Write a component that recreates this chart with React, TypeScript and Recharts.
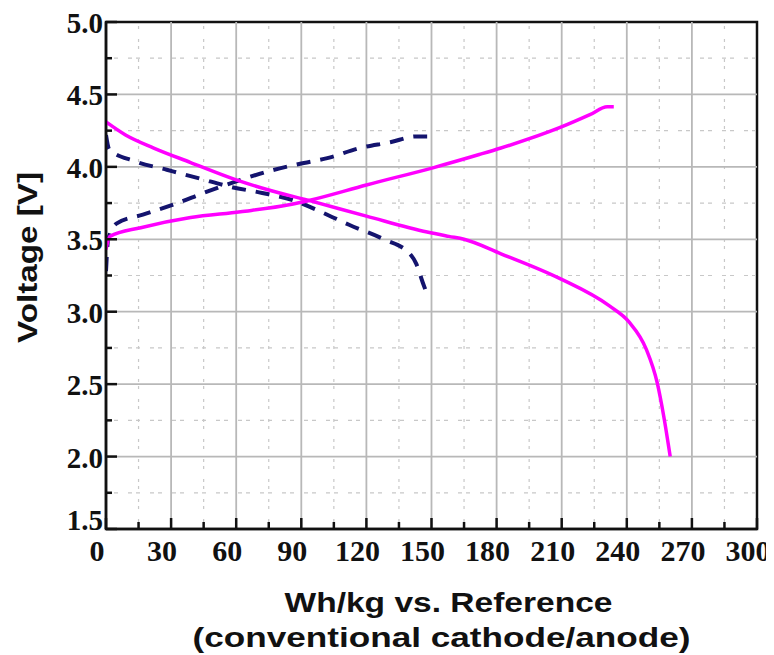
import React from "react";
import { LineChart, Line, XAxis, YAxis, ReferenceLine, ReferenceArea } from "recharts";

// Magenta (new chemistry) discharge curve
const pinkDisX = [0, 9, 22, 39, 60, 75, 93, 120, 148, 158, 165, 182, 209, 232, 241, 249, 254, 257, 260];
const pinkDisV = [4.31, 4.22, 4.13, 4.03, 3.91, 3.84, 3.77, 3.66, 3.55, 3.52, 3.5, 3.4, 3.23, 3.04, 2.93, 2.74, 2.51, 2.28, 2.0];
// Magenta charge curve
const pinkChgX = [0, 1.8, 16, 39, 62, 85, 94, 120, 151, 172, 182, 209, 223, 231, 234];
const pinkChgV = [3.43, 3.52, 3.58, 3.65, 3.69, 3.74, 3.77, 3.875, 3.995, 4.085, 4.13, 4.27, 4.36, 4.415, 4.415];
// Blue dashed (reference) discharge
const blueDisX = [0, 1.5, 13, 28, 43, 58, 72, 86, 99, 112, 128, 140, 143, 146, 148.5];
const blueDisV = [4.22, 4.12, 4.04, 3.98, 3.92, 3.86, 3.82, 3.77, 3.69, 3.6, 3.5, 3.4, 3.33, 3.2, 3.1];
// Blue dashed charge
const blueChgX = [0, 1, 5, 17, 33, 45, 60, 75, 89, 102, 117, 131, 143, 148];
const blueChgV = [3.28, 3.5, 3.61, 3.67, 3.75, 3.82, 3.9, 3.97, 4.02, 4.06, 4.13, 4.17, 4.21, 4.21];

const xTicks = [0, 15, 30, 45, 60, 75, 90, 105, 120, 135, 150, 165, 180, 195, 210, 225, 240, 255, 270, 285, 300];
const xMajor = [0, 30, 60, 90, 120, 150, 180, 210, 240, 270, 300];
const yTicks = [1.5, 1.75, 2.0, 2.25, 2.5, 2.75, 3.0, 3.25, 3.5, 3.75, 4.0, 4.25, 4.5, 4.75, 5.0];
const yMajor = [1.5, 2.0, 2.5, 3.0, 3.5, 4.0, 4.5, 5.0];

const xTitle1 = "Wh/kg vs. Reference";
const xTitle2 = "(conventional cathode/anode)";
const yTitle = "Voltage [V]";

const toPts = (xs: number[], vs: number[]) => xs.map((x, i) => ({ x, v: vs[i] }));
const pinkDis = toPts(pinkDisX, pinkDisV);
const pinkChg = toPts(pinkChgX, pinkChgV);
const blueDis = toPts(blueDisX, blueDisV);
const blueChg = toPts(blueChgX, blueChgV);

const isMajorX = (v: number) => xMajor.includes(v);
const isMajorY = (v: number) => yMajor.some((m) => Math.abs(m - v) < 1e-6);

const tickFont = "'Liberation Serif', 'Times New Roman', serif";
const titleFont = "'Liberation Sans', Arial, sans-serif";

const YTick = (props: any) => {
  const { x, y, payload } = props;
  const major = isMajorY(payload.value);
  const lift = payload.value === 1.5 ? -9 : 1;
  return (
    <g>
      <line x1={x} x2={x + (major ? 11 : 6)} y1={y} y2={y} stroke="#111" strokeWidth={2.5} />
      {major && (
        <text x={x - 3} y={y + lift} textAnchor="end" dominantBaseline="central" fontFamily={tickFont} fontWeight="bold" fontSize={29} fill="#111">
          {payload.value.toFixed(1)}
        </text>
      )}
    </g>
  );
};

const XTick = (props: any) => {
  const { x, y, payload } = props;
  const major = isMajorX(payload.value);
  return (
    <g>
      <line x1={x} x2={x} y1={y} y2={y - (major ? 11 : 7)} stroke="#111" strokeWidth={2.5} />
      {major && (
        <text x={x - 9} y={y + 32} textAnchor="middle" fontFamily={tickFont} fontWeight="bold" fontSize={30} fill="#111">
          {payload.value}
        </text>
      )}
    </g>
  );
};

const XTitle = (props: any) => {
  const vb = props.viewBox || { x: 106, y: 529, width: 651, height: 126 };
  const cx = vb.x + vb.width / 2;
  return (
    <g fontFamily={titleFont} fontWeight="bold" fontSize={28} fill="#111">
      <text x={cx + 17} y={vb.y + 83} textAnchor="middle" textLength={328} lengthAdjust="spacingAndGlyphs">
        {xTitle1}
      </text>
      <text x={cx + 10} y={vb.y + 118} textAnchor="middle" textLength={498} lengthAdjust="spacingAndGlyphs">
        {xTitle2}
      </text>
    </g>
  );
};

const YTitle = (props: any) => {
  const vb = props.viewBox || { x: 0, y: 22, width: 106, height: 507 };
  const cy = vb.y + vb.height / 2 - 18;
  return (
    <text
      transform={`translate(${vb.x + 37},${cy}) rotate(-90)`}
      textAnchor="middle"
      fontFamily={titleFont}
      fontWeight="bold"
      fontSize={28}
      fill="#111"
      textLength={171}
      lengthAdjust="spacingAndGlyphs"
    >
      {yTitle}
    </text>
  );
};

export default function App() {
  const majorGridX = xMajor.filter((v) => v > 0 && v < 300);
  const minorGridX = xTicks.filter((v) => !isMajorX(v));
  const majorGridY = yMajor.filter((v) => v > 1.5 && v < 5);
  const minorGridY = yTicks.filter((v) => !isMajorY(v));
  return (
    <div style={{ width: 774, height: 655, background: "#fff", margin: "-8px 0 0 -8px" }}>
      <LineChart width={774} height={655} margin={{ top: 22, right: 17, bottom: 0, left: 0 }}>
        <XAxis
          dataKey="x"
          type="number"
          domain={[0, 300]}
          ticks={xTicks}
          interval={0}
          tickSize={0}
          tickMargin={0}
          tickLine={false}
          tick={<XTick />}
          height={126}
          axisLine={{ stroke: "#111", strokeWidth: 2.5 }}
          allowDataOverflow
          label={<XTitle />}
        />
        <YAxis
          dataKey="v"
          type="number"
          domain={[1.5, 5]}
          ticks={yTicks}
          interval={0}
          tickSize={0}
          tickMargin={0}
          tickLine={false}
          tick={<YTick />}
          width={106}
          axisLine={{ stroke: "#111", strokeWidth: 2.5 }}
          allowDataOverflow
          label={<YTitle />}
        />
        {minorGridX.map((v) => (
          <ReferenceLine key={"mx" + v} x={v} stroke="#c8c8c8" strokeWidth={1.2} strokeDasharray="3 4 3 10" />
        ))}
        {minorGridY.map((v) => (
          <ReferenceLine key={"my" + v} y={v} stroke="#c8c8c8" strokeWidth={1.2} strokeDasharray="4 4 4 10" />
        ))}
        {majorGridX.map((v) => (
          <ReferenceLine key={"gx" + v} x={v} stroke="#b8b8b8" strokeWidth={1.8} />
        ))}
        {majorGridY.map((v) => (
          <ReferenceLine key={"gy" + v} y={v} stroke="#b8b8b8" strokeWidth={1.8} />
        ))}
        <ReferenceArea x1={0} x2={300} y1={1.5} y2={5} fill="none" stroke="#111" strokeWidth={2.5} />
        <Line data={blueChg} dataKey="v" type="monotone" stroke="#14146e" strokeWidth={4} strokeDasharray="14 10" dot={false} isAnimationActive={false} />
        <Line data={blueDis} dataKey="v" type="monotone" stroke="#14146e" strokeWidth={4} strokeDasharray="14 10" dot={false} isAnimationActive={false} />
        <Line data={pinkChg} dataKey="v" type="monotone" stroke="#ff00ff" strokeWidth={3.5} dot={false} isAnimationActive={false} />
        <Line data={pinkDis} dataKey="v" type="monotone" stroke="#ff00ff" strokeWidth={3.5} dot={false} isAnimationActive={false} />
      </LineChart>
    </div>
  );
}
